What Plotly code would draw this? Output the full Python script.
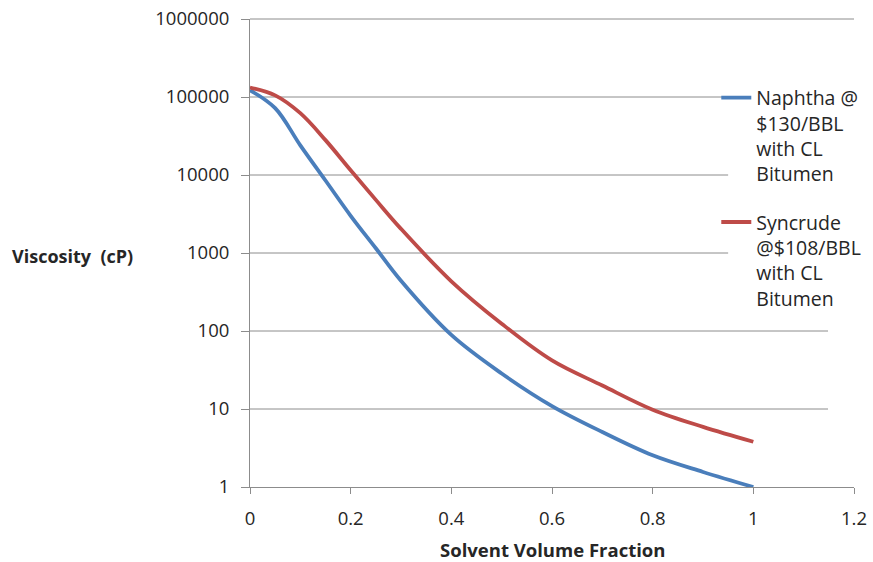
import math
import plotly.graph_objects as go

# Data
solvent_fraction = [0.0, 0.05, 0.1, 0.15, 0.2, 0.25, 0.3, 0.4, 0.5, 0.6, 0.7, 0.8, 0.9, 1.0]
naphtha_visc = [122000, 72000, 24000, 8500, 3000, 1150, 440, 89, 28.5, 10.9, 5.07, 2.55, 1.56, 1.0]
syncrude_visc = [132000, 105000, 62000, 28000, 11500, 4800, 2040, 434, 124, 42, 20, 9.8, 5.9, 3.8]

series_names = ["Naphtha @<br>$130/BBL<br>with CL<br>Bitumen",
                "Syncrude<br>@$108/BBL<br>with CL<br>Bitumen"]
series_colors = ["#4A7EBB", "#BE4B48"]

y_tickvals = [1, 10, 100, 1000, 10000, 100000, 1000000]
y_ticktext = ["1", "10", "100", "1000", "10000", "100000", "1000000"]
x_tickvals = [0, 0.2, 0.4, 0.6, 0.8, 1.0, 1.2]
x_ticktext = ["0", "0.2", "0.4", "0.6", "0.8", "1", "1.2"]

# horizontal gridline extents (fraction of plot width); legend box hides parts
grid_end = {10: 0.957, 100: 0.957, 1000: 0.7916, 10000: 0.7916,
            100000: 0.7916, 1000000: 1.0}

FONT = "Open Sans"
GRID = "#8C8C8C"
TXT = "#262626"

fig = go.Figure()
for i, (name, yv, col) in enumerate(zip(series_names, [naphtha_visc, syncrude_visc], series_colors)):
    fig.add_trace(go.Scatter(
        x=solvent_fraction, y=yv, mode="lines", name=name, legendgroup=f"g{i}",
        line=dict(color=col, width=3.8, shape="spline", smoothing=1.0),
    ))

ymax = math.log10(y_tickvals[-1])
shapes = []
for v, xe in grid_end.items():
    yd = math.log10(v) / ymax
    shapes.append(dict(type="line", xref="x domain", yref="y domain",
                       x0=0, x1=xe, y0=yd, y1=yd,
                       line=dict(color=GRID, width=1), layer="below"))

fig.update_layout(
    width=873, height=562,
    margin=dict(l=250, r=19, t=19, b=75, autoexpand=False),
    paper_bgcolor="white", plot_bgcolor="white",
    font=dict(family=FONT, size=18.5, color=TXT),
    showlegend=True,
    legend=dict(
        x=0.772, y=0.873, xanchor="left", yanchor="top",
        bgcolor="rgba(0,0,0,0)", borderwidth=0,
        font=dict(family=FONT, size=19.5, color=TXT),
        valign="top", tracegroupgap=20, itemwidth=30,
    ),
    xaxis=dict(
        range=[0, 1.2], tickvals=x_tickvals, ticktext=x_ticktext,
        showgrid=False, zeroline=False, automargin=False,
        showline=True, linecolor=GRID, linewidth=1,
        ticks="outside", ticklen=6, tickcolor=GRID, tickwidth=1,
        ticklabelstandoff=9,
        tickfont=dict(family=FONT, size=18.5, color=TXT),
    ),
    yaxis=dict(
        type="log", range=[0, ymax], tickvals=y_tickvals, ticktext=y_ticktext,
        showgrid=False, zeroline=False, automargin=False,
        showline=True, linecolor=GRID, linewidth=1,
        ticks="outside", ticklen=8, tickcolor=GRID, tickwidth=1,
        ticklabelstandoff=8,
        tickfont=dict(family=FONT, size=18.5, color=TXT),
    ),
    shapes=shapes,
    annotations=[
        dict(text="<b>Viscosity  (cP)</b>", xref="paper", yref="paper",
             x=-0.397, y=0.493, xanchor="left", yanchor="middle", showarrow=False,
             font=dict(family=FONT, size=18, color=TXT)),
        dict(text="<b>Solvent Volume Fraction</b>", xref="paper", yref="paper",
             x=0.5, y=-0.133, xanchor="center", yanchor="middle", showarrow=False,
             font=dict(family=FONT, size=18.5, color=TXT)),
    ],
)

fig.write_html("out.html")
